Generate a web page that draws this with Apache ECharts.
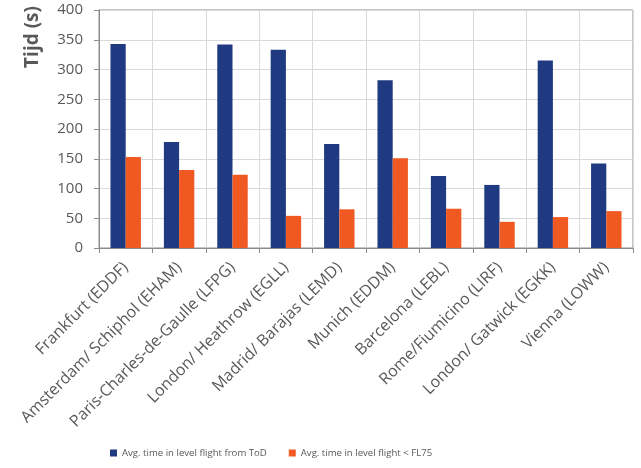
<!DOCTYPE html>
<html><head><meta charset="utf-8">
<script src="https://cdn.jsdelivr.net/npm/echarts@6/dist/echarts.min.js"></script>
<style>html,body{margin:0;padding:0;background:#fff}#c{width:641px;height:468px}</style>
</head><body><div id="c"></div>
<script>
var categories = ['Frankfurt (EDDF)','Amsterdam/ Schiphol (EHAM)','Paris-Charles-de-Gaulle (LFPG)','London/ Heathrow (EGLL)','Madrid/ Barajas (LEMD)','Munich (EDDM)','Barcelona (LEBL)','Rome/Fiumicino (LIRF)','London/ Gatwick (EGKK)','Vienna (LOWW)'];
var seriesNames = ['Avg. time in level flight from ToD','Avg. time in level flight < FL75'];
var fromToD = [343,178,342,333,175,282,121,106,315,142];
var belowFL75 = [153,131,123,54,65,151,66,44,52,62];
var yAxisTitle = 'Tijd (s)';

var chart = echarts.init(document.getElementById('c'));
chart.setOption({
  animation:false,
  textStyle:{fontFamily:'Open Sans'},
  grid:{left:99,right:8,top:10,bottom:220,show:true,borderColor:'#8c8c8c',borderWidth:1,backgroundColor:'transparent'},
  graphic:[{type:'text',left:23,top:6,rotation:Math.PI/2,style:{text:yAxisTitle,font:'bold 19px "Open Sans"',fill:'#595959'}}],
  legend:{top:443,left:105,itemWidth:7,itemHeight:7,itemGap:22,icon:'rect',
    textStyle:{fontSize:9.6,color:'#595959',fontFamily:'Open Sans'},data:seriesNames},
  xAxis:{type:'category',data:categories,
    axisLine:{lineStyle:{color:'#8c8c8c'}},
    axisTick:{show:true,length:5,lineStyle:{color:'#8c8c8c'}},
    splitLine:{show:true,lineStyle:{color:'#d9d9d9'}},
    axisLabel:{rotate:45,fontSize:16,color:'#595959',margin:17,interval:0}},
  yAxis:{type:'value',min:0,max:400,interval:50,
    axisLine:{show:true,lineStyle:{color:'#8c8c8c'}},
    axisTick:{show:true,length:5,lineStyle:{color:'#8c8c8c'}},
    splitLine:{lineStyle:{color:'#d9d9d9'}},
    axisLabel:{fontSize:15,color:'#595959',margin:16}},
  series:[
    {name:seriesNames[0],type:'bar',data:fromToD,barGap:'0%',barCategoryGap:'43%',itemStyle:{color:'#1f3a80'}},
    {name:seriesNames[1],type:'bar',data:belowFL75,barGap:'0%',barCategoryGap:'43%',itemStyle:{color:'#f05a22'}}
  ]
});
</script></body></html>
